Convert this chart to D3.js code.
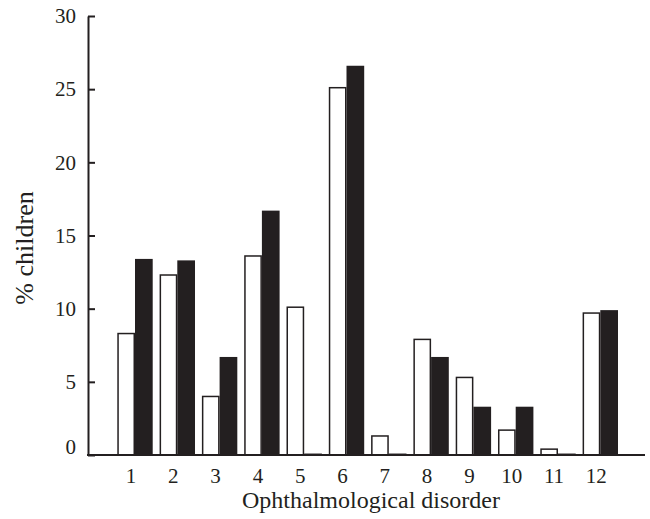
<!DOCTYPE html>
<html>
<head>
<meta charset="utf-8">
<script src="https://cdn.jsdelivr.net/npm/d3@7"></script>
<style>
  html, body { margin: 0; padding: 0; background: #fff; }
  svg { display: block; }
  text { font-family: "Liberation Serif", "DejaVu Serif", serif; fill: #231f20; }
</style>
</head>
<body>
<svg id="chart" width="650" height="519"></svg>
<script>
const categories = ["1","2","3","4","5","6","7","8","9","10","11","12"];
const seriesNames = ["Group A", "Group B"];
const seriesA = [8.3, 12.3, 4.0, 13.6, 10.1, 25.1, 1.3, 7.9, 5.3, 1.7, 0.4, 9.7];
const seriesB = [13.4, 13.3, 6.7, 16.7, 0.1, 26.6, 0.1, 6.7, 3.3, 3.3, 0.1, 9.9];
const yTicks = [0, 5, 10, 15, 20, 25, 30];
const xTitle = "Ophthalmological disorder";
const yTitle = "% children";

const ink = "#231f20";
const svg = d3.select("#chart");

const y = d3.scaleLinear().domain([0, 30]).range([455, 16]);
const x = d3.scaleBand().domain(categories).range([117.3, 618]).paddingInner(0.163).paddingOuter(0);
const xs = d3.scaleBand().domain(seriesNames).range([0, x.bandwidth()]).padding(0);

const rows = categories.map((c, i) => ({ c, vals: [seriesA[i], seriesB[i]] }));

const g = svg.append("g");
const groups = g.selectAll("g.grp").data(rows).join("g")
  .attr("transform", d => `translate(${x(d.c)},0)`);

groups.selectAll("rect").data(d => d.vals.map((v, k) => ({ v, k })))
  .join("rect")
  .attr("x", d => xs(seriesNames[d.k]) + (d.k === 0 ? 0.75 : 0))
  .attr("width", d => xs.bandwidth() - (d.k === 0 ? 1.5 : 0))
  .attr("y", d => y(d.v))
  .attr("height", d => y(0) - y(d.v))
  .attr("fill", d => d.k === 0 ? "#fff" : ink)
  .attr("stroke", d => d.k === 0 ? ink : "none")
  .attr("stroke-width", 1.5);

// Y axis
const yAxis = d3.axisLeft(y).tickValues(yTicks).tickSize(-7).tickPadding(12).tickSizeOuter(0);
const ya = svg.append("g").attr("transform", "translate(88,0)").call(yAxis);
ya.select(".domain").attr("stroke", ink).attr("stroke-width", 2);
ya.selectAll(".tick line").attr("stroke", ink).attr("stroke-width", 2);
ya.selectAll(".tick text")
  .attr("font-size", 21)
  .attr("font-family", "Liberation Serif")
  .attr("fill", ink)
  .attr("dy", d => d === 0 ? "-0.08em" : "0.32em");

// X axis
const xAxis = d3.axisBottom(x).tickSize(0).tickPadding(13);
const xa = svg.append("g").attr("transform", "translate(0,455)").call(xAxis);
xa.select(".domain").remove();
xa.selectAll(".tick text")
  .attr("font-size", 21)
  .attr("font-family", "Liberation Serif")
  .attr("fill", ink)
  .attr("dx", -4);
svg.append("line")
  .attr("x1", 87).attr("x2", 645)
  .attr("y1", y(0)).attr("y2", y(0))
  .attr("stroke", ink).attr("stroke-width", 2);

// Titles
svg.append("text")
  .attr("x", 371).attr("y", 508)
  .attr("text-anchor", "middle")
  .attr("font-size", 24)
  .text(xTitle);
svg.append("text")
  .attr("transform", "translate(33,248) rotate(-90)")
  .attr("text-anchor", "middle")
  .attr("font-size", 26)
  .text(yTitle);
</script>
</body>
</html>
